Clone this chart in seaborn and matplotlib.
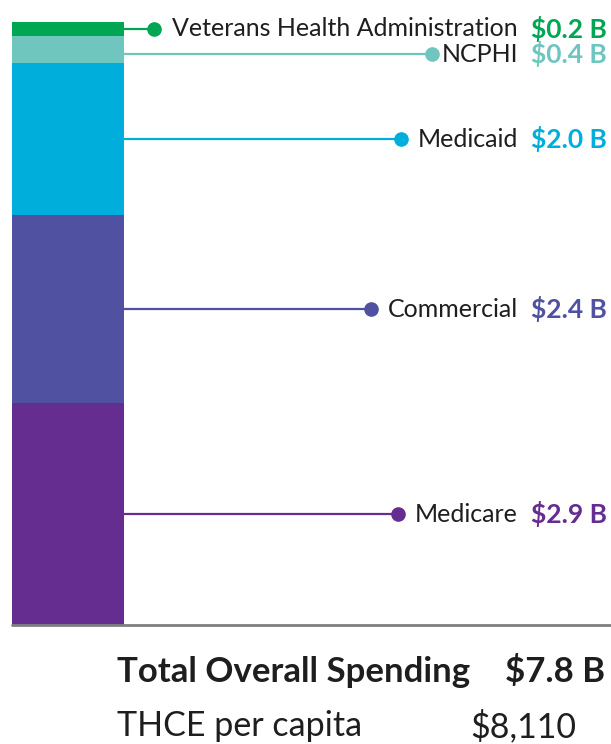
import pandas as pd
import seaborn as sns
import matplotlib.pyplot as plt

# payers from top of the stack to the bottom
payers = ["Veterans Health Administration", "NCPHI", "Medicaid", "Commercial", "Medicare"]
spend = [0.18, 0.35, 1.97, 2.43, 2.87]          # $ billions
spend_labels = ["$0.2 B", "$0.4 B", "$2.0 B", "$2.4 B", "$2.9 B"]
colors = ["#00A651", "#6EC6BF", "#00AEDB", "#5151A2", "#662D91"]

total_label = "$7.8 B"
per_capita_label = "$8,110"

# layout: where each leader line ends (pixels) and small vertical nudges
dot_x = [154, 432, 401, 371, 398]
nudge = [0.0, -0.06, 0.0, 0.0, 0.0]

sns.set_style("white")
plt.rcParams["font.family"] = ["Lato", "DejaVu Sans"]

W, H = 611, 744
fig = plt.figure(figsize=(W / 100, H / 100), dpi=100)

# cumulative heights (bottom of stack = Medicare)
df = pd.DataFrame({"payer": payers, "value": spend})
df["top"] = df["value"][::-1].cumsum()[::-1]
df["mid"] = df["top"] - df["value"] / 2
df["group"] = "all"
total = df["top"].max()

bottom_px, top_px = 625, 22
ax_bar = fig.add_axes([12 / W, (H - bottom_px) / H, (124 - 12) / W, (bottom_px - top_px) / H])
sns.barplot(data=df, x="group", y="top", hue="payer", hue_order=payers,
            palette=colors, dodge=False, width=1, saturation=1, linewidth=0,
            legend=False, ax=ax_bar)
ax_bar.set_xlim(-0.5, 0.5)
ax_bar.set_ylim(0, total)
ax_bar.axis("off")

# overlay axes for leader lines and labels (x in pixels)
ax = fig.add_axes([0, (H - bottom_px) / H, 1, (bottom_px - top_px) / H])
ax.set_xlim(0, W)
ax.set_ylim(0, total)
ax.axis("off")
ax.patch.set_alpha(0)

for i, row in df.iterrows():
    y = row["mid"] + nudge[i]
    ax.plot([124, dot_x[i]], [y, y], color=colors[i], lw=1.6, solid_capstyle="butt")
    ax.plot(dot_x[i], y, "o", color=colors[i], ms=9.5)
    ax.text(518, y, row["payer"], ha="right", va="center", fontsize=18, color="#1e1e1e")
    ax.text(607, y, spend_labels[i], ha="right", va="center", fontsize=19,
            fontweight="bold", color=colors[i])

# baseline
ax.plot([12, W], [0, 0], color="#7f7f7f", lw=2, clip_on=False)

# totals below the chart
fig.text(117 / W, (H - 672) / H, "Total Overall Spending", ha="left", va="center",
         fontsize=25, fontweight="bold", color="#1e1e1e")
fig.text(605 / W, (H - 672) / H, total_label, ha="right", va="center",
         fontsize=25, fontweight="bold", color="#1e1e1e")
fig.text(117 / W, (H - 726) / H, "THCE per capita", ha="left", va="center",
         fontsize=24.5, color="#1e1e1e")
fig.text(470 / W, (H - 726) / H, per_capita_label, ha="left", va="center",
         fontsize=24.5, color="#1e1e1e")

fig.savefig("out.png", dpi=100)
